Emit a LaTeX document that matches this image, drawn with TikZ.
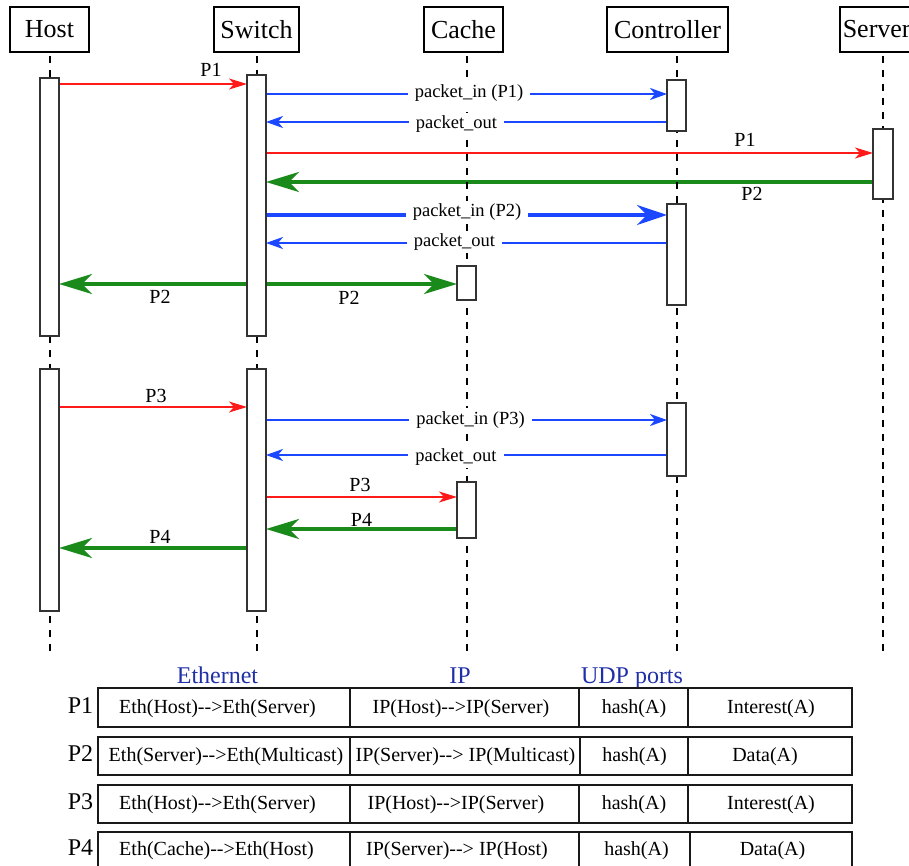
\documentclass[tikz,border=0pt]{standalone}
\usepackage{fontspec}
\setmainfont{Liberation Serif}
\usetikzlibrary{arrows.meta}
\definecolor{myred}{HTML}{FF1A1A}
\definecolor{myblue}{HTML}{1A47FF}
\definecolor{mygreen}{HTML}{1A8A1A}
\definecolor{hdrblue}{HTML}{1F2FA8}
\pgfdeclarelayer{arrlayer}
\pgfdeclarelayer{lifelayer}
\pgfsetlayers{arrlayer,lifelayer,main}
\newcommand{\myfs}[1]{\fontsize{#1}{#1}\selectfont}
\newcommand{\ar}{-{}->}
\begin{document}
\begin{tikzpicture}[x=1pt,y=-1pt,
  hdr/.style={draw, line width=1.5pt, minimum height=45pt, inner xsep=6pt, font=\myfs{26}},
  act/.style={draw=black!80, line width=1.5pt, fill=white, minimum width=19pt, inner sep=0pt, outer sep=0pt},
  life/.style={dash pattern=on 7pt off 7pt, line width=2pt},
  redarr/.style={draw=myred, line width=2pt, -{Stealth[length=18pt,width=11pt,inset=5pt]}},
  bluearr/.style={draw=myblue, line width=2pt, -{Stealth[length=17pt,width=12pt,inset=5pt]}},
  bluethick/.style={draw=myblue, line width=4pt, -{Stealth[length=30pt,width=20pt,inset=10pt]}},
  greenarr/.style={draw=mygreen, line width=4pt, -{Stealth[length=33pt,width=20pt,inset=10pt]}},
  plbl/.style={font=\myfs{20}, anchor=base, inner sep=0pt},
  pkt/.style={font=\myfs{18.5}, anchor=base, fill=white, inner xsep=7pt, inner ysep=3pt},
  tbl/.style={line width=1.8pt, draw=black!90},
  thdr/.style={font=\myfs{24}, text=hdrblue, anchor=base, inner sep=0pt},
  rowlbl/.style={font=\myfs{24}, anchor=base, inner sep=0pt},
  cell/.style={font=\myfs{20}, anchor=base, inner sep=0pt}
]
\useasboundingbox (0,0) rectangle (909,866);
% headers
\node[hdr, minimum width=79pt] (host) at (49.5,29.5) {Host};
\node[hdr, minimum width=85pt] (switch) at (256.5,29.5) {Switch};
\node[hdr, minimum width=79pt] (cache) at (463.5,29.5) {Cache};
\node[hdr, minimum width=121pt] (ctrl) at (667.5,29.5) {Controller};
\node[hdr, anchor=west, inner xsep=3pt] (server) at (839,29.5) {Server};
% activation boxes
\node[act, minimum height=258pt] (hA) at (49.5,207) {};
\node[act, minimum height=242pt] (hB) at (49.5,490) {};
\node[act, minimum height=261pt] (sA) at (256.5,205.5) {};
\node[act, minimum height=242pt] (sB) at (256.5,490) {};
\node[act, minimum height=34pt] (kA) at (466.5,283) {};
\node[act, minimum height=56pt] (kB) at (466.5,510) {};
\node[act, minimum height=51pt] (cA) at (676.5,105.5) {};
\node[act, minimum height=101pt] (cB) at (676.5,254.5) {};
\node[act, minimum height=73pt] (cC) at (676.5,439.5) {};
\node[act, minimum width=20pt, minimum height=70pt] (vA) at (883,164) {};
% lifelines
\begin{pgfonlayer}{lifelayer}
\draw[life] (hA.center |- 0,56) -- (hA.center |- 0,653);
\draw[life] (sA.center |- 0,56) -- (sA.center |- 0,653);
\draw[life] (kA.center |- 0,56) -- (kA.center |- 0,653);
\draw[life] (cA.center |- 0,56) -- (cA.center |- 0,653);
\draw[life] (vA.center |- 0,56) -- (vA.center |- 0,653);
\end{pgfonlayer}
% messages
\begin{pgfonlayer}{arrlayer}
\draw[redarr] (hA.east |- 0,84) -- (sA.west |- 0,84);
\draw[bluearr] (sA.east |- 0,94) -- (cA.west |- 0,94);
\draw[bluearr] (cA.west |- 0,122) -- (sA.east |- 0,122);
\draw[redarr] (sA.east |- 0,153) -- (vA.west |- 0,153);
\draw[greenarr] (vA.west |- 0,182) -- (sA.east |- 0,182);
\draw[bluethick] (sA.east |- 0,215) -- (cB.west |- 0,215);
\draw[bluearr] (cB.west |- 0,243) -- (sA.east |- 0,243);
\draw[greenarr] (sA.west |- 0,284) -- (hA.east |- 0,284);
\draw[greenarr] (sA.east |- 0,284) -- (kA.west |- 0,284);
\draw[redarr] (hB.east |- 0,407) -- (sB.west |- 0,407);
\draw[bluearr] (sB.east |- 0,420) -- (cC.west |- 0,420);
\draw[bluearr] (cC.west |- 0,455) -- (sB.east |- 0,455);
\draw[redarr] (sB.east |- 0,497) -- (kB.west |- 0,497);
\draw[greenarr] (kB.west |- 0,529) -- (sB.east |- 0,529);
\draw[greenarr] (sB.west |- 0,548) -- (hB.east |- 0,548);
\end{pgfonlayer}
% message labels
\node[plbl] (l1) at (211,77) {P1};
\node[pkt] (l2) at (469,98) {packet\_in (P1)};
\node[pkt] (l3) at (456.5,129) {packet\_out};
\node[plbl] (l4) at (745,147) {P1};
\node[plbl] (l5) at (752,201) {P2};
\node[pkt] (l6) at (467,217) {packet\_in (P2)};
\node[pkt] (l7) at (454.5,246.5) {packet\_out};
\node[plbl] (l8) at (160,303) {P2};
\node[plbl] (l9) at (349,305) {P2};
\node[plbl] (l10) at (156,402) {P3};
\node[pkt] (l11) at (470.5,424) {packet\_in (P3)};
\node[pkt] (l12) at (456,461) {packet\_out};
\node[plbl] (l13) at (360,491) {P3};
\node[plbl] (l14) at (361.5,526) {P4};
\node[plbl] (l15) at (160,543) {P4};
% table headers
\node[thdr] (tEth) at (217.5,683) {Ethernet};
\node[thdr] (tIP) at (460,683) {IP};
\node[thdr] (tUDP) at (632,683) {UDP ports};
% table rows
\draw[tbl] (98,688) rectangle (852,727);
\draw[tbl] (350,688) -- (350,727) (579,688) -- (579,727) (688,688) -- (688,727);
\draw[tbl] (98,737) rectangle (852,775);
\draw[tbl] (350,737) -- (350,775) (580,737) -- (580,775) (688,737) -- (688,775);
\draw[tbl] (98,785) rectangle (852,823);
\draw[tbl] (350,785) -- (350,823) (579,785) -- (579,823) (688,785) -- (688,823);
\draw[tbl] (98,832) rectangle (852,872);
\draw[tbl] (350,832) -- (350,872) (579,832) -- (579,872) (690,832) -- (690,872);
% row labels
\node[rowlbl] (r1) at (80.5,713) {P1};
\node[rowlbl] (r2) at (80.5,761) {P2};
\node[rowlbl] (r3) at (80.5,809) {P3};
\node[rowlbl] (r4) at (80.5,855.5) {P4};
% cells
\node[cell] (c11) at (217.5,713) {Eth(Host)\ar Eth(Server)};
\node[cell] (c12) at (461,713) {IP(Host)\ar IP(Server)};
\node[cell] (c13) at (634,713) {hash(A)};
\node[cell] (c14) at (771,713) {Interest(A)};
\node[cell] (c21) at (226,761) {Eth(Server)\ar Eth(Multicast)};
\node[cell] (c22) at (465.5,761) {IP(Server)\ar{} IP(Multicast)};
\node[cell] (c23) at (634.5,761) {hash(A)};
\node[cell] (c24) at (765,761) {Data(A)};
\node[cell] (c31) at (217.5,809) {Eth(Host)\ar Eth(Server)};
\node[cell] (c32) at (456,809) {IP(Host)\ar IP(Server)};
\node[cell] (c33) at (634,809) {hash(A)};
\node[cell] (c34) at (771,809) {Interest(A)};
\node[cell] (c41) at (216.5,855.5) {Eth(Cache)\ar Eth(Host)};
\node[cell] (c42) at (457,855.5) {IP(Server)\ar{} IP(Host)};
\node[cell] (c43) at (636.5,855.5) {hash(A)};
\node[cell] (c44) at (772.5,855.5) {Data(A)};
\end{tikzpicture}
\end{document}
